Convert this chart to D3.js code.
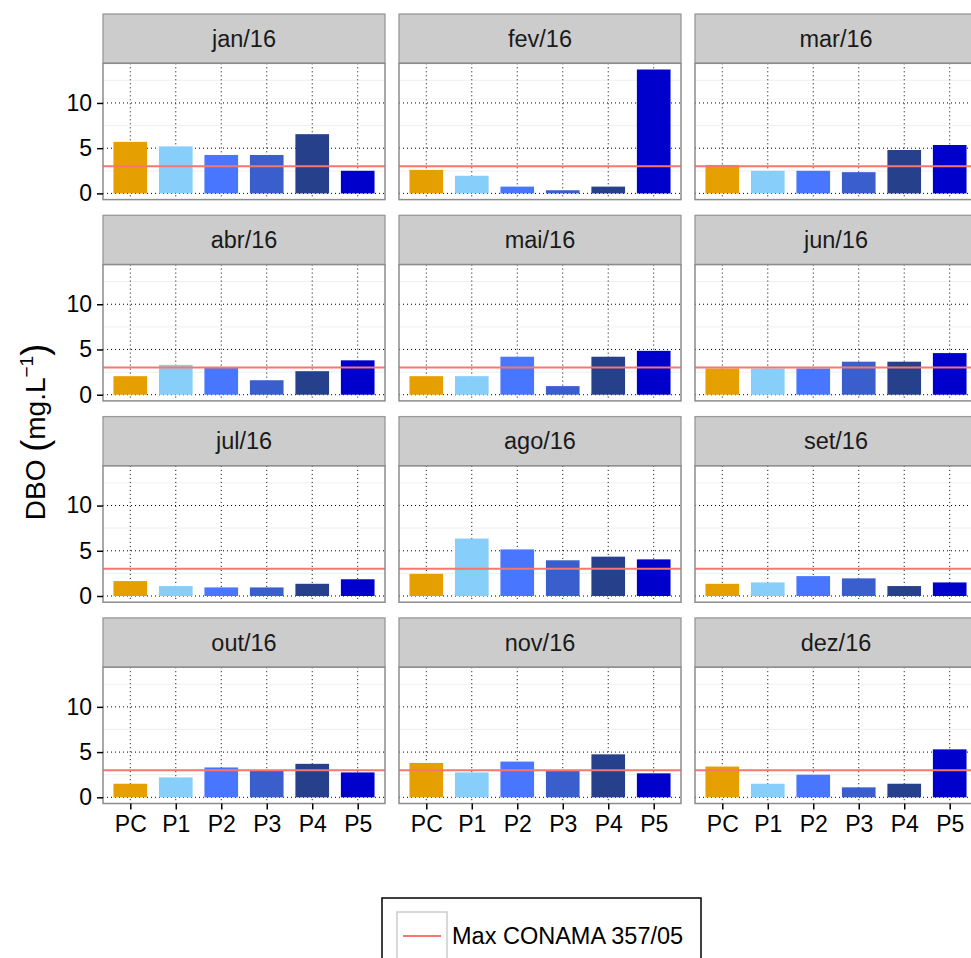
<!DOCTYPE html>
<html>
<head>
<meta charset="utf-8">
<script src="https://cdn.jsdelivr.net/npm/d3@7"></script>
<style>
  body { margin: 0; background: #fff; }
  text { font-family: "Liberation Sans", Arial, sans-serif; }
</style>
</head>
<body>
<svg id="chart" width="971" height="958"></svg>
<script>
// DBO by sampling point, faceted by month

const months = ["jan/16","fev/16","mar/16","abr/16","mai/16","jun/16",
                "jul/16","ago/16","set/16","out/16","nov/16","dez/16"];
const points = ["PC","P1","P2","P3","P4","P5"];
const pointColors = ["#E69F00","#87CEFA","#4876FF","#3A5FCD","#27408B","#0000CD"];

// values per month, in order PC..P5
const jan = [5.7, 5.2, 4.25, 4.25, 6.55, 2.5];
const fev = [2.6, 1.95, 0.75, 0.35, 0.75, 13.7];
const mar = [3.15, 2.5, 2.5, 2.35, 4.8, 5.35];
const abr = [2.05, 3.3, 2.95, 1.6, 2.6, 3.8];
const mai = [2.05, 2.05, 4.2, 0.95, 4.2, 4.85];
const jun = [2.9, 2.9, 2.9, 3.65, 3.65, 4.6];
const jul = [1.65, 1.1, 0.95, 0.95, 1.35, 1.85];
const ago = [2.45, 6.35, 5.15, 3.95, 4.35, 4.05];
const set = [1.35, 1.5, 2.2, 1.95, 1.1, 1.5];
const out = [1.5, 2.2, 3.3, 2.95, 3.7, 2.75];
const nov = [3.8, 2.75, 3.95, 2.9, 4.75, 2.65];
const dez = [3.4, 1.5, 2.5, 1.1, 1.5, 5.3];
const monthValues = [jan, fev, mar, abr, mai, jun, jul, ago, set, out, nov, dez];

const yTicks = [0, 5, 10];
const yMinor = [2.5, 7.5, 12.5];
const conamaMax = 3;
const legendLabel = "Max CONAMA 357/05";

const svg = d3.select("#chart");

// layout
const colX = [103, 399, 695], panelW = 282;
const rowTop = [14, 215.3, 416.6, 617.9];
const stripH = 49.3, plotH = 136.3;

const maxV = d3.max(monthValues.flat());
const pad = maxV * 0.05;

const x = d3.scalePoint().domain(points).range([0, panelW]).padding(0.6);
const barW = x.step() * 0.74;
const color = d3.scaleOrdinal().domain(points).range(pointColors);

months.forEach((m, i) => {
  const col = i % 3, row = Math.floor(i / 3);
  const g = svg.append("g").attr("transform", `translate(${colX[col]},${rowTop[row]})`);
  const y = d3.scaleLinear().domain([-pad, maxV + pad]).range([stripH + plotH, stripH]);

  // strip
  g.append("rect").attr("x", 0).attr("y", 0).attr("width", panelW).attr("height", stripH)
    .attr("fill", "#CCCCCC").attr("stroke", "#999").attr("stroke-width", 1.3);
  g.append("text").attr("x", panelW / 2).attr("y", stripH / 2).attr("dy", "0.35em")
    .attr("text-anchor", "middle").attr("font-size", 23.5).attr("fill", "#1A1A1A").text(m);

  // panel bg
  g.append("rect").attr("x", 0).attr("y", stripH).attr("width", panelW).attr("height", plotH)
    .attr("fill", "#fff");

  // minor grid
  g.selectAll(".minor").data(yMinor).join("line")
    .attr("x1", 0).attr("x2", panelW).attr("y1", d => y(d)).attr("y2", d => y(d))
    .attr("stroke", "#F2F2F2").attr("stroke-width", 1.2);
  // major grid
  g.selectAll(".hmaj").data(yTicks).join("line")
    .attr("x1", 0).attr("x2", panelW).attr("y1", d => y(d)).attr("y2", d => y(d))
    .attr("stroke", "#000").attr("stroke-width", 1).attr("stroke-dasharray", "1,3");
  g.selectAll(".vmaj").data(points).join("line")
    .attr("x1", d => x(d)).attr("x2", d => x(d)).attr("y1", stripH).attr("y2", stripH + plotH)
    .attr("stroke", "#000").attr("stroke-width", 1).attr("stroke-dasharray", "1,3");

  // bars
  g.selectAll(".bar").data(monthValues[i]).join("rect")
    .attr("x", (d, j) => x(points[j]) - barW / 2)
    .attr("width", barW)
    .attr("y", d => y(d))
    .attr("height", d => y(0) - y(d))
    .attr("fill", (d, j) => color(points[j]));

  // CONAMA max line
  g.append("line").attr("x1", 0).attr("x2", panelW)
    .attr("y1", y(conamaMax)).attr("y2", y(conamaMax))
    .attr("stroke", "#F8766D").attr("stroke-width", 2);

  // border
  g.append("rect").attr("x", 0).attr("y", stripH).attr("width", panelW).attr("height", plotH)
    .attr("fill", "none").attr("stroke", "#8C8C8C").attr("stroke-width", 1.5);

  // y axis on first column
  if (col === 0) {
    const ax = g.append("g").call(d3.axisLeft(y).tickValues(yTicks).tickSize(6).tickPadding(5));
    ax.select(".domain").remove();
    ax.selectAll("line").attr("stroke", "#000").attr("stroke-width", 1.5);
    ax.selectAll("text").attr("font-size", 23).attr("fill", "#000")
      .attr("font-family", "Liberation Sans, Arial, sans-serif");
  }
  // x axis on bottom row
  if (row === 3) {
    const ax = g.append("g").attr("transform", `translate(0,${stripH + plotH})`)
      .call(d3.axisBottom(x).tickSize(6).tickPadding(6));
    ax.select(".domain").remove();
    ax.selectAll("line").attr("stroke", "#000").attr("stroke-width", 1.5);
    ax.selectAll("text").attr("font-size", 23).attr("fill", "#000")
      .attr("font-family", "Liberation Sans, Arial, sans-serif");
  }
});

// y title: DBO (mg.L^-1) with tall brackets
const yt = svg.append("text")
  .attr("transform", "translate(45,432) rotate(-90)")
  .attr("text-anchor", "middle").attr("font-size", 28).attr("fill", "#000");
yt.append("tspan").text("DBO ");
yt.append("tspan").attr("font-size", 36).attr("dy", 2).text("(");
yt.append("tspan").attr("dy", -2).text("mg.L");
yt.append("tspan").attr("dy", -12).attr("font-size", 19).text("\u22121");
yt.append("tspan").attr("dy", 14).attr("font-size", 36).text(")");

// legend
const lg = svg.append("g").attr("transform", "translate(382,898)");
lg.append("rect").attr("width", 319).attr("height", 80)
  .attr("fill", "#fff").attr("stroke", "#000").attr("stroke-width", 1.5);
lg.append("rect").attr("x", 15).attr("y", 14).attr("width", 50).attr("height", 48)
  .attr("fill", "#fff").attr("stroke", "#CCCCCC").attr("stroke-width", 1.5);
lg.append("line").attr("x1", 21).attr("x2", 59).attr("y1", 38).attr("y2", 38)
  .attr("stroke", "#F8766D").attr("stroke-width", 2);
lg.append("text").attr("x", 70).attr("y", 38).attr("dy", "0.35em")
  .attr("font-size", 23.5).attr("fill", "#000").text(legendLabel);
</script>
</body>
</html>
